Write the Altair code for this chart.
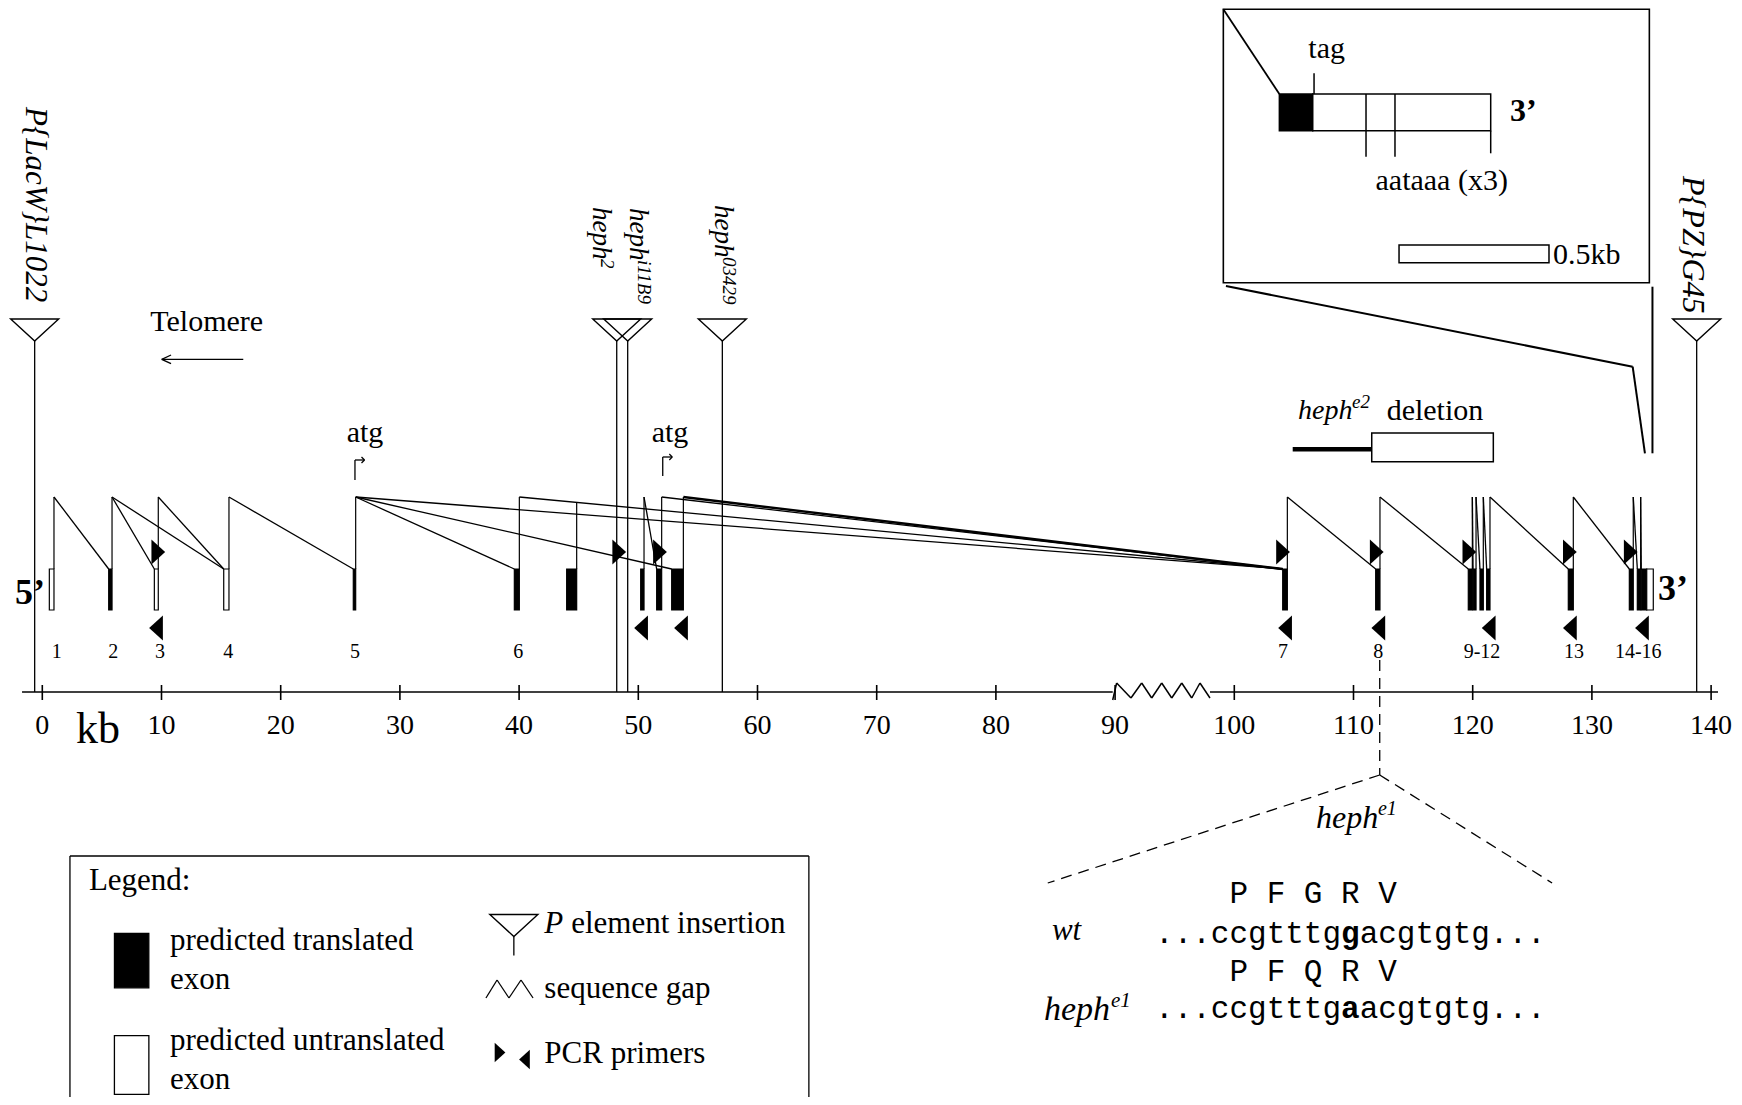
import altair as alt
import pandas as pd

# ======================= DATA (genomic positions in kb) =======================
AXIS_TICKS = [0, 10, 20, 30, 40, 50, 60, 70, 80, 90, 100, 110, 120, 130, 140]
AXIS_PIECES_KB = [(-1.70, 89.80), (97.96, 140.58)]
GAP_KB = [89.80, 90.13, 91.33, 92.23, 93.07, 93.91, 94.75, 95.59, 96.43, 97.12, 97.96]
GAP_LEVEL = [700, 683, 698, 683, 698, 683, 698, 683, 698, 683, 698]

EXON_START = [0.59, 5.57, 9.40, 15.22, 26.09, 39.60, 43.99, 50.20, 51.54, 52.80,
              104.06, 111.86, 119.63, 120.03, 120.61, 121.17, 128.02, 133.14,
              133.81, 134.14, 134.60]
EXON_END = [0.98, 5.85, 9.73, 15.66, 26.29, 40.02, 44.83, 50.48, 51.96, 53.78,
            104.45, 112.22, 119.97, 120.28, 120.89, 121.45, 128.44, 133.47,
            134.09, 134.60, 135.15]
EXON_TRANSLATED = [False, True, False, False, True, True, True, True, True, True,
                   True, True, True, True, True, True, True, True, True, True, False]

INTRON_DONOR = [0.98, 5.85, 5.85, 9.73, 15.66, 26.29, 26.29, 26.29, 40.02, 50.48,
                51.96, 53.78, 104.45, 112.22, 119.97, 120.28, 120.89, 121.45,
                128.44, 133.47, 134.09]
INTRON_ACCEPTOR = [5.57, 9.40, 15.22, 15.22, 26.09, 39.60, 52.80, 104.06, 104.06,
                   51.54, 104.06, 104.06, 111.86, 119.63, 120.03, 120.61, 121.17,
                   128.02, 133.14, 133.81, 134.14]
INTRON_HEAVY = [False, False, False, False, False, False, False, False, False, False,
                False, True, False, False, False, False, False, False, False, False, False]
ALT_DONOR_KB = [44.83]
ALT_DONOR_JOIN = [502.4]

FWD_PRIMERS = [9.73, 48.40, 51.82, 104.09, 111.95, 119.72, 128.15, 133.26]
REV_PRIMERS = [9.54, 50.23, 53.58, 104.26, 112.08, 121.34, 128.15, 134.20]

EXON_LABELS = ["1", "2", "3", "4", "5", "6", "7", "8", "9-12", "13", "14-16"]
EXON_LABEL_KB = [1.21, 5.96, 9.87, 15.60, 26.23, 39.93, 104.09, 112.08, 120.78, 128.50, 133.89]

P_ELEMENT_KB = [-0.64, 48.19, 49.11, 57.05, 138.79]
P_ELEMENT_NAME = ["P{LacW}L1022", "heph", "heph", "heph", "P{PZ}G45"]
P_ELEMENT_SUP = ["", "2", "i11B9", "03429", ""]
P_LABEL_KB = [-1.37, 46.20, 49.30, 56.43, 137.64]
P_LABEL_TOP = [107, 207, 208, 205, 176]
P_LABEL_SIZE = [31, 27, 27, 27, 32]
P_SUP_KB = [None, 46.87, 49.97, 57.10, None]
P_SUP_TOP = [None, 259, 260, 257, None]

ATG_KB = [26.23, 52.05]
ATG_TEXT_KB = [27.07, 52.66]

DELETION_LINE_KB = (104.90, 111.53)
DELETION_BOX_KB = (111.53, 121.73)

INSET_BOX_KB = (99.08, 134.82)
INSET_CDS_KB = (103.78, 106.58)
INSET_UTR_KB = (106.58, 121.51)
INSET_POLYA_KB = [111.05, 113.48, 121.51]
INSET_TAG_KB = 106.69
INSET_SCALE_KB = (113.82, 126.40)

HEPH_E1_KB = 112.20
SEQ_START_KB = 93.35
SEQ_CHAR_KB = 1.5604
AA_WT = "P  F  G  R  V"
AA_MUT = "P  F  Q  R  V"
SEQ_WT = ("...ccgtttg", "g", "acgtgtg...")
SEQ_MUT = ("...ccgtttg", "a", "acgtgtg...")

# ======================= layout levels (vertical units) =======================
EXON_TOP, EXON_BOTTOM, PEAK = 569, 610, 497
AXIS_Y = 692
TRI_Y, TRI_APEX = 330, 341
FWD_Y, REV_Y = 552, 628

X_DOMAIN = [-2.8775, 141.921]
Y_DOMAIN = [8, 1097]
W, H = 1726, 1089

xs = alt.Scale(domain=X_DOMAIN, nice=False, zero=False)
ys = alt.Scale(domain=Y_DOMAIN, nice=False, zero=False, reverse=True)
SERIF = "Liberation Serif"
MONO = "Liberation Mono"

# ======================= segments =======================
segs = []
dsegs = []


def seg(x1, y1, x2, y2, w=1.3, store=segs):
    store.append(dict(x=x1, y=y1, x2=x2, y2=y2, w=w))


for a, b in AXIS_PIECES_KB:
    seg(a, AXIS_Y, b, AXIS_Y, 1.6)
for t in AXIS_TICKS:
    seg(t, AXIS_Y - 7, t, AXIS_Y + 8, 1.6)
for i in range(len(GAP_KB) - 1):
    seg(GAP_KB[i], GAP_LEVEL[i], GAP_KB[i + 1], GAP_LEVEL[i + 1], 1.5)

for d in sorted(set(INTRON_DONOR)):
    seg(d, EXON_TOP, d, PEAK, 1.2)
for d, a, h in zip(INTRON_DONOR, INTRON_ACCEPTOR, INTRON_HEAVY):
    seg(d, PEAK, a, EXON_TOP, 2.4 if h else 1.3)
for d, j in zip(ALT_DONOR_KB, ALT_DONOR_JOIN):
    seg(d, EXON_TOP, d, j, 1.2)

for k in P_ELEMENT_KB:
    seg(k, TRI_APEX, k, AXIS_Y, 1.3)

# telomere arrow
seg(16.86, 359.3, 10.02, 359.3, 1.3)
seg(10.02, 359.3, 10.80, 355.0, 1.3)
seg(10.02, 359.3, 10.80, 363.6, 1.3)
# atg bent arrows
for k, top, bot in zip(ATG_KB, [460, 457], [480, 476]):
    seg(k, bot, k, top, 1.3)
    seg(k, top, k + 0.80, top, 1.3)
    seg(k + 0.80, top, k + 0.55, top - 3, 1.2)
    seg(k + 0.80, top, k + 0.55, top + 3, 1.2)

# heph e2 deletion
seg(DELETION_LINE_KB[0], 449.3, DELETION_LINE_KB[1], 449.3, 4.5)

# inset details
seg(INSET_BOX_KB[0], 9.3, INSET_CDS_KB[0], 94, 1.8)
seg(INSET_TAG_KB, 73.3, INSET_TAG_KB, 94, 1.5)
seg(INSET_POLYA_KB[0], 94, INSET_POLYA_KB[0], 156.7, 1.5)
seg(INSET_POLYA_KB[1], 94, INSET_POLYA_KB[1], 156.7, 1.5)
seg(INSET_POLYA_KB[2], 130.7, INSET_POLYA_KB[2], 153.3, 1.5)
# zoom lines from inset to the gene end
seg(99.30, 286, 133.42, 366.7, 2.0)
seg(133.42, 366.7, 134.45, 453.3, 2.0)
seg(135.08, 286.7, 135.08, 453.3, 2.0)

# legend frame (bottom is cut by the page)
seg(2.32, 856, 64.31, 856, 1.3)
seg(2.32, 856, 2.32, 1097, 1.3)
seg(64.31, 856, 64.31, 1097, 1.3)
seg(39.56, 936.5, 39.56, 955.6, 1.3)
LEG_ZZ_KB = [37.22, 38.15, 39.15, 40.16, 41.17]
LEG_ZZ_Y = [998, 980, 998, 980, 998]
for i in range(len(LEG_ZZ_KB) - 1):
    seg(LEG_ZZ_KB[i], LEG_ZZ_Y[i], LEG_ZZ_KB[i + 1], LEG_ZZ_Y[i + 1], 1.3)

# dashed heph e1 callout
seg(HEPH_E1_KB, 660, HEPH_E1_KB, 775, 1.3, dsegs)
seg(HEPH_E1_KB, 775, 84.35, 883, 1.3, dsegs)
seg(HEPH_E1_KB, 775, 126.66, 883, 1.3, dsegs)

# ======================= rectangles =======================
rects = []
for s, e, tr in zip(EXON_START, EXON_END, EXON_TRANSLATED):
    rects.append(dict(x=s, x2=e, y=EXON_TOP, y2=EXON_BOTTOM, fill="black" if tr else "white", w=1.2))
rects.append(dict(x=DELETION_BOX_KB[0], x2=DELETION_BOX_KB[1], y=433, y2=461.7, fill="white", w=1.5))
rects.append(dict(x=INSET_CDS_KB[0], x2=INSET_CDS_KB[1], y=94, y2=130.7, fill="black", w=1.5))
rects.append(dict(x=INSET_UTR_KB[0], x2=INSET_UTR_KB[1], y=94, y2=130.7, fill="white", w=1.5))
rects.append(dict(x=INSET_SCALE_KB[0], x2=INSET_SCALE_KB[1], y=245, y2=262.7, fill="white", w=1.5))
rects.append(dict(x=6.05, x2=8.94, y=933.3, y2=987.8, fill="black", w=1.2))
rects.append(dict(x=6.05, x2=8.94, y=1035.6, y2=1094.4, fill="white", w=1.3))

frame = pd.DataFrame([dict(x=INSET_BOX_KB[0], x2=INSET_BOX_KB[1], y=9.3, y2=282.7)])


def enc_xy():
    return dict(x=alt.X("x:Q", scale=xs, axis=None), y=alt.Y("y:Q", scale=ys, axis=None))


frame_layer = alt.Chart(frame).mark_rect(fill="white", stroke="black", strokeWidth=1.6).encode(
    x2=alt.X2("x2:Q"), y2=alt.Y2("y2:Q"), **enc_xy())

seg_layer = alt.Chart(pd.DataFrame(segs)).mark_rule(color="black").encode(
    x2=alt.X2("x2:Q"), y2=alt.Y2("y2:Q"), strokeWidth=alt.StrokeWidth("w:Q", scale=None), **enc_xy())
dseg_layer = alt.Chart(pd.DataFrame(dsegs)).mark_rule(color="black", strokeDash=[11, 7]).encode(
    x2=alt.X2("x2:Q"), y2=alt.Y2("y2:Q"), strokeWidth=alt.StrokeWidth("w:Q", scale=None), **enc_xy())
rect_layer = alt.Chart(pd.DataFrame(rects)).mark_rect(stroke="black").encode(
    x2=alt.X2("x2:Q"), y2=alt.Y2("y2:Q"), fill=alt.Fill("fill:N", scale=None),
    strokeWidth=alt.StrokeWidth("w:Q", scale=None), **enc_xy())

# ======================= symbols =======================
TRI_SHAPE = "M-1,-0.46L1,-0.46L0,0.46Z"
FWD_SHAPE = "M-0.55,-1L0.55,0L-0.55,1Z"
REV_SHAPE = "M0.55,-1L-0.55,0L0.55,1Z"

tri_df = pd.DataFrame({"x": P_ELEMENT_KB + [39.56], "y": [TRI_Y] * len(P_ELEMENT_KB) + [925.5]})
tri_layer = alt.Chart(tri_df).mark_point(shape=TRI_SHAPE, size=2304, filled=False, color="black",
                                         strokeWidth=1.4, opacity=1).encode(**enc_xy())
fwd_df = pd.DataFrame({"x": FWD_PRIMERS, "y": [FWD_Y] * len(FWD_PRIMERS)})
rev_df = pd.DataFrame({"x": REV_PRIMERS, "y": [REV_Y] * len(REV_PRIMERS)})
fwd_layer = alt.Chart(fwd_df).mark_point(shape=FWD_SHAPE, size=625, filled=True, color="black",
                                         opacity=1, strokeWidth=0).encode(**enc_xy())
rev_layer = alt.Chart(rev_df).mark_point(shape=REV_SHAPE, size=625, filled=True, color="black",
                                         opacity=1, strokeWidth=0).encode(**enc_xy())
lfwd_layer = alt.Chart(pd.DataFrame({"x": [38.40], "y": [1052.5]})).mark_point(
    shape=FWD_SHAPE, size=380, filled=True, color="black", opacity=1, strokeWidth=0).encode(**enc_xy())
lrev_layer = alt.Chart(pd.DataFrame({"x": [40.45], "y": [1059.5]})).mark_point(
    shape=REV_SHAPE, size=380, filled=True, color="black", opacity=1, strokeWidth=0).encode(**enc_xy())


# ======================= texts =======================
def text_layer(rows, font=SERIF, style="normal", weight="normal", align="left", baseline="middle"):
    df = pd.DataFrame(rows, columns=["x", "y", "t", "s", "a"])
    return alt.Chart(df).mark_text(font=font, fontStyle=style, fontWeight=weight, align=align,
                                   baseline=baseline, color="black").encode(
        text="t:N", size=alt.Size("s:Q", scale=None), angle=alt.Angle("a:Q", scale=None), **enc_xy())


center_rows = [(t, 726, str(t), 28, 0) for t in AXIS_TICKS]
center_rows += [(k, 652, lab, 20, 0) for k, lab in zip(EXON_LABEL_KB, EXON_LABELS)]
center_rows += [(13.79, 322, "Telomere", 30, 0)]
center_rows += [(k, 433, "atg", 30, 0) for k in ATG_TEXT_KB]
center_rows += [(107.75, 49, "tag", 30, 0), (117.40, 181, "aataaa (x3)", 30, 0),
                (4.67, 730, "kb", 44, 0)]

left_rows = [(126.74, 255, "0.5kb", 30, 0), (112.78, 411, "deletion", 30, 0),
             (3.91, 881, "Legend:", 31, 0),
             (10.71, 941, "predicted translated", 31, 0), (10.71, 980, "exon", 31, 0),
             (10.71, 1041, "predicted untranslated", 31, 0), (10.71, 1080, "exon", 31, 0),
             (44.37, 924, "element insertion", 31, 0), (42.12, 989, "sequence gap", 31, 0),
             (42.12, 1054, "PCR primers", 31, 0)]

italic_rows = [(105.34, 411, "heph", 28, 0), (109.87, 402, "e2", 19, 0),
               (106.85, 818, "heph", 32, 0), (112.05, 809, "e1", 20, 0),
               (84.70, 931, "wt", 31, 0),
               (84.03, 1010, "heph", 34, 0), (89.66, 1001, "e1", 21, 0),
               (42.12, 924, "P", 31, 0)]

rot_rows = [(kx, top, name, sz, 90) for kx, top, name, sz in
            zip(P_LABEL_KB, P_LABEL_TOP, P_ELEMENT_NAME, P_LABEL_SIZE)]
rot_rows += [(kx, top, sup, 19, 90) for kx, top, sup in zip(P_SUP_KB, P_SUP_TOP, P_ELEMENT_SUP) if sup]

bold_center_rows = [(-1.03, 593, "5\u2019", 36, 0)]
bold_left_rows = [(135.54, 589, "3\u2019", 36, 0), (123.13, 111, "3\u2019", 32, 0)]

mono_rows = [(SEQ_START_KB + 4 * SEQ_CHAR_KB, 894, AA_WT, 31, 0),
             (SEQ_START_KB + 4 * SEQ_CHAR_KB, 972, AA_MUT, 31, 0)]
mono_bold_rows = []
for yv, parts in [(934, SEQ_WT), (1009, SEQ_MUT)]:
    mono_rows.append((SEQ_START_KB, yv, parts[0], 31, 0))
    mono_bold_rows.append((SEQ_START_KB + len(parts[0]) * SEQ_CHAR_KB, yv, parts[1], 31, 0))
    mono_rows.append((SEQ_START_KB + (len(parts[0]) + 1) * SEQ_CHAR_KB, yv, parts[2], 31, 0))

layers = [
    frame_layer, rect_layer, seg_layer, dseg_layer, tri_layer, fwd_layer, rev_layer,
    lfwd_layer, lrev_layer,
    text_layer(center_rows, align="center"),
    text_layer(left_rows),
    text_layer(italic_rows, style="italic"),
    text_layer(rot_rows, style="italic", baseline="alphabetic"),
    text_layer(bold_center_rows, weight="bold", align="center"),
    text_layer(bold_left_rows, weight="bold"),
    text_layer(mono_rows, font=MONO),
    text_layer(mono_bold_rows, font=MONO, weight="bold"),
]

chart = alt.layer(*layers).properties(
    width=W, height=H, padding=0, autosize=alt.AutoSizeParams(type="none"),
    background="white",
).configure_view(stroke=None)

chart.save("out.html", embed_options={"renderer": "svg", "actions": False})
